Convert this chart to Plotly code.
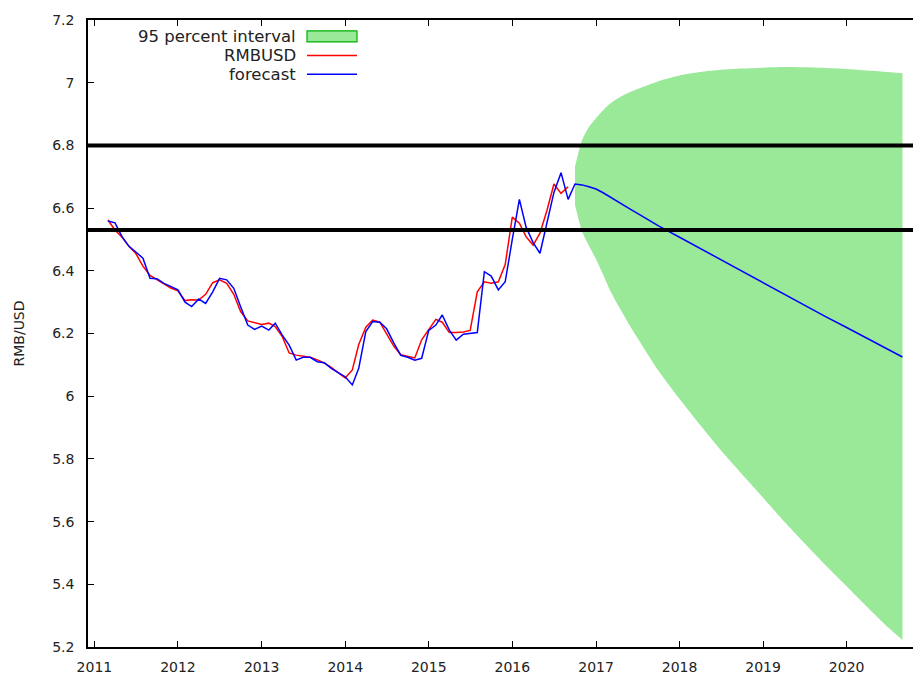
import pandas as pd
import plotly.graph_objects as go

# Monthly RMB/USD observations, Mar 2011 - Sep 2016
hist_start = "2011-03-01"
rmbusd = [
    6.562, 6.530, 6.508, 6.478, 6.455, 6.415, 6.385, 6.372, 6.360, 6.345,
    6.336, 6.305, 6.308, 6.307, 6.325, 6.362, 6.371, 6.360, 6.325, 6.270, 6.240, 6.235,
    6.229, 6.233, 6.222, 6.190, 6.138, 6.131, 6.128, 6.124, 6.116, 6.106, 6.092, 6.075,
    6.058, 6.084, 6.165, 6.220, 6.243, 6.236, 6.200, 6.160, 6.132, 6.127, 6.122, 6.180,
    6.214, 6.245, 6.236, 6.203, 6.203, 6.205, 6.210, 6.333, 6.365, 6.360, 6.365, 6.420,
    6.571, 6.552, 6.509, 6.482, 6.520, 6.594, 6.677, 6.647, 6.668,
]

# One-step-ahead fitted values over the same months
fitted = [
    6.559, 6.553, 6.510, 6.478, 6.460, 6.440, 6.376, 6.375, 6.360, 6.350,
    6.339, 6.300, 6.286, 6.310, 6.296, 6.333, 6.376, 6.371, 6.344, 6.285, 6.227, 6.213,
    6.224, 6.211, 6.233, 6.195, 6.163, 6.115, 6.124, 6.124, 6.110, 6.107, 6.089, 6.075,
    6.062, 6.036, 6.089, 6.206, 6.238, 6.236, 6.215, 6.170, 6.130, 6.124, 6.115, 6.121,
    6.210, 6.227, 6.259, 6.211, 6.179, 6.198, 6.200, 6.203, 6.397, 6.383, 6.339, 6.365,
    6.500, 6.628, 6.540, 6.490, 6.456, 6.560, 6.650, 6.713, 6.628,
]

# Out-of-sample forecast with 95 percent interval
fc_dates = [
    "2016-10-01", "2016-11-01", "2016-12-01", "2017-01-01", "2017-02-01", "2017-03-01",
    "2017-04-01", "2017-05-01", "2017-06-01", "2017-07-01",
    "2017-10-01", "2018-01-01", "2018-04-01", "2018-07-01", "2018-10-01", "2019-01-01",
    "2019-04-01", "2019-07-01", "2019-10-01", "2020-01-01", "2020-04-01", "2020-07-01",
    "2020-09-01",
]
forecast = [
    6.677, 6.674, 6.668, 6.661, 6.649, 6.636, 6.623, 6.610, 6.596, 6.583,
    6.543, 6.507, 6.471, 6.434, 6.398, 6.362, 6.326, 6.290, 6.254, 6.219, 6.183, 6.148, 6.125,
]
upper95 = [
    6.732, 6.817, 6.859, 6.887, 6.912, 6.932, 6.948, 6.960, 6.971, 6.980,
    7.005, 7.023, 7.034, 7.041, 7.045, 7.048, 7.050, 7.049, 7.047, 7.044, 7.039, 7.034, 7.030,
]
lower95 = [
    6.610, 6.525, 6.480, 6.437, 6.388, 6.341, 6.298, 6.260, 6.221, 6.186,
    6.081, 5.991, 5.908, 5.827, 5.751, 5.676, 5.602, 5.531, 5.461, 5.394, 5.327, 5.262, 5.222,
]

# Reference levels
ref_levels = [6.80, 6.53]

y_ticks = [5.2, 5.4, 5.6, 5.8, 6.0, 6.2, 6.4, 6.6, 6.8, 7.0, 7.2]
y_tick_text = ["5.2", "5.4", "5.6", "5.8", "6", "6.2", "6.4", "6.6", "6.8", "7", "7.2"]

hist_dates = list(pd.date_range(hist_start, periods=len(rmbusd), freq="MS"))
fc_dt = list(pd.to_datetime(fc_dates))

GREEN = "rgb(153,233,153)"
FONT = "DejaVu Sans"
TXT = "#222"

fig = go.Figure()

# 95 percent interval band
fig.add_trace(go.Scatter(x=fc_dt, y=lower95, mode="lines",
                         line=dict(width=0, shape="spline", smoothing=0.6),
                         hoverinfo="skip", showlegend=False))
fig.add_trace(go.Scatter(x=fc_dt, y=upper95, mode="lines",
                         line=dict(width=0, shape="spline", smoothing=0.6),
                         fill="tonexty", fillcolor=GREEN, name="95 percent interval",
                         showlegend=False))

# Observed series
fig.add_trace(go.Scatter(x=hist_dates, y=rmbusd, mode="lines", name="RMBUSD",
                         line=dict(color="#ff0000", width=1.5), showlegend=False))

# Fitted values joined to the forecast path
fig.add_trace(go.Scatter(x=hist_dates + fc_dt, y=fitted + forecast, mode="lines",
                         name="forecast", line=dict(color="#0000ff", width=1.5),
                         showlegend=False))

shapes = []
for lvl in ref_levels:
    shapes.append(dict(type="line", xref="paper", x0=0, x1=1, yref="y", y0=lvl, y1=lvl,
                       line=dict(color="black", width=4), layer="above"))

# Key in the upper-left corner: label on the left, sample on the right
key_rows = [("95 percent interval", 7.147), ("RMBUSD", 7.087), ("forecast", 7.027)]
x_key_text = (298 - 88) / 825
x_key0 = (307 - 88) / 825
x_key1 = (357 - 88) / 825
annotations = []
for label, yv in key_rows:
    annotations.append(dict(text=label, xref="paper", x=x_key_text, xanchor="right",
                            yref="y", y=yv, yanchor="middle", showarrow=False,
                            font=dict(family=FONT, size=16.5, color=TXT)))
shapes.append(dict(type="rect", xref="paper", x0=x_key0, x1=x_key1, yref="y",
                   y0=7.130, y1=7.165, fillcolor=GREEN, line=dict(color="#00b000", width=1.2)))
shapes.append(dict(type="line", xref="paper", x0=x_key0, x1=x_key1, yref="y",
                   y0=7.087, y1=7.087, line=dict(color="#ff0000", width=1.5)))
shapes.append(dict(type="line", xref="paper", x0=x_key0, x1=x_key1, yref="y",
                   y0=7.027, y1=7.027, line=dict(color="#0000ff", width=1.5)))

# Vertical axis title
annotations.append(dict(text="RMB/USD", xref="paper", x=(18 - 88) / 825, xanchor="center",
                        yref="paper", y=0.5, yanchor="middle", textangle=-90,
                        showarrow=False, font=dict(family=FONT, size=14, color=TXT)))

fig.update_layout(
    width=913, height=675,
    margin=dict(l=88, r=0, t=20, b=28),
    paper_bgcolor="white", plot_bgcolor="white",
    showlegend=False,
    shapes=shapes, annotations=annotations,
    font=dict(family=FONT, size=14, color=TXT),
)

fig.update_xaxes(
    type="date", range=["2010-12-04", "2020-10-17"],
    dtick="M12", tick0="2011-01-01", tickformat="%Y",
    ticks="inside", ticklen=6, tickwidth=1, tickcolor="black",
    showline=True, linecolor="black", linewidth=1.5, mirror="ticks",
    showgrid=False, zeroline=False, ticklabelstandoff=6,
    tickfont=dict(family=FONT, size=14, color=TXT),
)
fig.update_yaxes(
    range=[5.2, 7.2], tickvals=y_ticks, ticktext=y_tick_text,
    ticks="inside", ticklen=6, tickwidth=1, tickcolor="black",
    showline=True, linecolor="black", linewidth=1.5,
    showgrid=False, zeroline=False, ticklabelstandoff=9,
    tickfont=dict(family=FONT, size=14, color=TXT),
)

fig.write_html("out.html")
